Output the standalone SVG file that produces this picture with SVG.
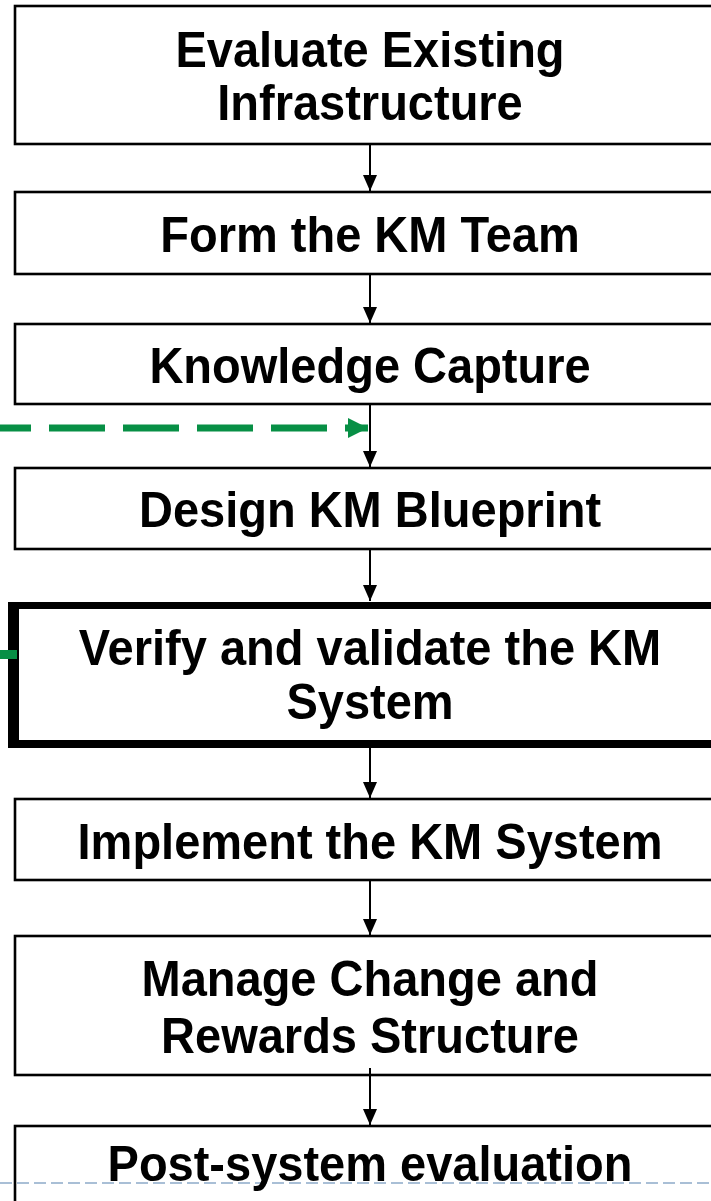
<svg xmlns="http://www.w3.org/2000/svg" width="711" height="1201" viewBox="0 0 711 1201">
  <defs>
    <style>
      .box { fill: #ffffff; stroke: #000000; stroke-width: 2.6; }
      .lbl { font-family: "Liberation Sans", Arial, sans-serif; font-weight: bold; font-size: 50px; fill: #000000; text-anchor: middle; }
      .flow { stroke: #000000; stroke-width: 2; fill: none; marker-end: url(#ah); }
      .green { stroke: #078f45; stroke-width: 7; fill: none; stroke-dasharray: 56 18; }
    </style>
    <marker id="ah" viewBox="0 0 16 14" refX="16" refY="7" markerWidth="16" markerHeight="14" markerUnits="userSpaceOnUse" orient="auto">
      <path d="M0,0 L16,7 L0,14 Z" fill="#000000"/>
    </marker>
    <marker id="gh" viewBox="0 0 20 20" refX="20" refY="10" markerWidth="20" markerHeight="20" markerUnits="userSpaceOnUse" orient="auto">
      <path d="M0,0 L20,10 L0,20 Z" fill="#078f45"/>
    </marker>
  </defs>
  <rect x="0" y="0" width="711" height="1201" fill="#ffffff"/>

  <g id="n1">
    <rect class="box" x="15" y="6" width="760" height="138"/>
    <text class="lbl" transform="translate(370,67) scale(0.94,1)">Evaluate Existing</text>
    <text class="lbl" transform="translate(370,120) scale(0.94,1)">Infrastructure</text>
  </g>
  <g id="n2">
    <rect class="box" x="15" y="192" width="760" height="82"/>
    <text class="lbl" transform="translate(370,252) scale(0.94,1)">Form the KM Team</text>
  </g>
  <g id="n3">
    <rect class="box" x="15" y="324" width="760" height="80"/>
    <text class="lbl" transform="translate(370,383) scale(0.94,1)">Knowledge Capture</text>
  </g>
  <g id="n4">
    <rect class="box" x="15" y="468" width="760" height="81"/>
    <text class="lbl" transform="translate(370,527) scale(0.94,1)">Design KM Blueprint</text>
  </g>
  <g id="n5">
    <path d="M8,602 H775 V748 H8 Z M19,609 H775 V740 H19 Z" fill="#000000" fill-rule="evenodd"/>
    <rect x="19" y="609" width="756" height="131" fill="#ffffff"/>
    <text class="lbl" transform="translate(370,665) scale(0.94,1)">Verify and validate the KM</text>
    <text class="lbl" transform="translate(370,719) scale(0.94,1)">System</text>
  </g>
  <g id="n6">
    <rect class="box" x="15" y="799" width="760" height="81"/>
    <text class="lbl" transform="translate(370,859) scale(0.94,1)">Implement the KM System</text>
  </g>
  <g id="n7">
    <rect class="box" x="15" y="936" width="760" height="139"/>
    <text class="lbl" transform="translate(370,996) scale(0.94,1)">Manage Change and</text>
    <text class="lbl" transform="translate(370,1053) scale(0.94,1)">Rewards Structure</text>
  </g>
  <g id="n8">
    <rect class="box" x="15" y="1126" width="760" height="120"/>
    <line x1="0" y1="1183" x2="711" y2="1183" stroke="#a9bfd6" stroke-width="2" stroke-dasharray="12 5"/>
    <text class="lbl" transform="translate(370,1181) scale(0.94,1)">Post-system evaluation</text>
  </g>

  <g id="connectors">
    <line class="flow" x1="370" y1="144" x2="370" y2="191"/>
    <line class="flow" x1="370" y1="274" x2="370" y2="323"/>
    <line class="flow" x1="370" y1="404" x2="370" y2="467"/>
    <line class="flow" x1="370" y1="549" x2="370" y2="601"/>
    <line class="flow" x1="370" y1="748" x2="370" y2="798"/>
    <line class="flow" x1="370" y1="880" x2="370" y2="935"/>
    <line class="flow" x1="370" y1="1068" x2="370" y2="1125"/>
    <line class="green" x1="-25" y1="428" x2="368" y2="428" marker-end="url(#gh)"/>
    <line x1="0" y1="654.5" x2="17" y2="654.5" stroke="#078f45" stroke-width="9"/>
  </g>
</svg>
